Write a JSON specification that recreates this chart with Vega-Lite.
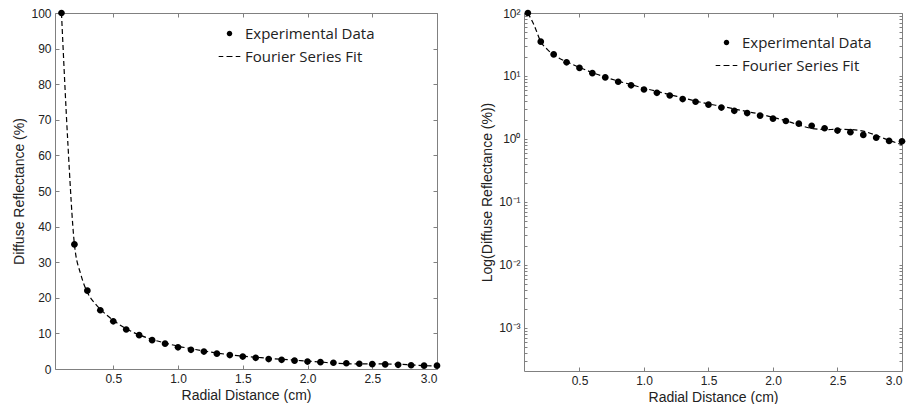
{
  "$schema": "https://vega.github.io/schema/vega-lite/v6.json",
  "background": "white",
  "padding": {"left": 12, "top": 7, "right": 0, "bottom": 0},
  "spacing": 39,
  "config": {
    "view": {"stroke": null},
    "axis": {
      "domainColor": "#808080",
      "tickColor": "#808080",
      "labelColor": "#222222",
      "labelFont": "Liberation Sans",
      "labelFontSize": 12,
      "titleFont": "Liberation Sans",
      "titleFontSize": 14,
      "titleFontWeight": "normal",
      "titleColor": "#222222",
      "grid": false,
      "tickSize": -4,
      "labelPadding": 8
    },
    "legend": {
      "labelFont": "Open Sans",
      "labelFontSize": 15,
      "labelColor": "#222222"
    }
  },
  "datasets": {
    "exp": [
      {"r": 0.1, "R": 100, "series": "Experimental Data"},
      {"r": 0.2, "R": 35, "series": "Experimental Data"},
      {"r": 0.3, "R": 22, "series": "Experimental Data"},
      {"r": 0.4, "R": 16.5, "series": "Experimental Data"},
      {"r": 0.5, "R": 13.4, "series": "Experimental Data"},
      {"r": 0.6, "R": 11.1, "series": "Experimental Data"},
      {"r": 0.7, "R": 9.5, "series": "Experimental Data"},
      {"r": 0.8, "R": 8.1, "series": "Experimental Data"},
      {"r": 0.9, "R": 7.1, "series": "Experimental Data"},
      {"r": 1.0, "R": 6.1, "series": "Experimental Data"},
      {"r": 1.1, "R": 5.4, "series": "Experimental Data"},
      {"r": 1.2, "R": 4.9, "series": "Experimental Data"},
      {"r": 1.3, "R": 4.3, "series": "Experimental Data"},
      {"r": 1.4, "R": 3.9, "series": "Experimental Data"},
      {"r": 1.5, "R": 3.5, "series": "Experimental Data"},
      {"r": 1.6, "R": 3.15, "series": "Experimental Data"},
      {"r": 1.7, "R": 2.8, "series": "Experimental Data"},
      {"r": 1.8, "R": 2.58, "series": "Experimental Data"},
      {"r": 1.9, "R": 2.34, "series": "Experimental Data"},
      {"r": 2.0, "R": 2.1, "series": "Experimental Data"},
      {"r": 2.1, "R": 1.93, "series": "Experimental Data"},
      {"r": 2.2, "R": 1.75, "series": "Experimental Data"},
      {"r": 2.3, "R": 1.62, "series": "Experimental Data"},
      {"r": 2.4, "R": 1.48, "series": "Experimental Data"},
      {"r": 2.5, "R": 1.36, "series": "Experimental Data"},
      {"r": 2.6, "R": 1.28, "series": "Experimental Data"},
      {"r": 2.7, "R": 1.16, "series": "Experimental Data"},
      {"r": 2.8, "R": 1.05, "series": "Experimental Data"},
      {"r": 2.9, "R": 0.93, "series": "Experimental Data"},
      {"r": 3.0, "R": 0.92, "series": "Experimental Data"}
    ],
    "fit": [
      {"r": 0.1, "F": 100}, {"r": 0.15, "F": 63}, {"r": 0.2, "F": 35}, {"r": 0.25, "F": 26.5},
      {"r": 0.3, "F": 21.5}, {"r": 0.35, "F": 18.8}, {"r": 0.4, "F": 16.8}, {"r": 0.5, "F": 13.7},
      {"r": 0.6, "F": 11.3}, {"r": 0.7, "F": 9.6}, {"r": 0.8, "F": 8.3}, {"r": 0.9, "F": 7.3},
      {"r": 1.0, "F": 6.4}, {"r": 1.1, "F": 5.7}, {"r": 1.2, "F": 5.05}, {"r": 1.3, "F": 4.5},
      {"r": 1.4, "F": 4.0}, {"r": 1.5, "F": 3.6}, {"r": 1.6, "F": 3.3}, {"r": 1.7, "F": 3.0},
      {"r": 1.8, "F": 2.72}, {"r": 1.9, "F": 2.48}, {"r": 2.0, "F": 2.2}, {"r": 2.1, "F": 1.95},
      {"r": 2.2, "F": 1.67}, {"r": 2.3, "F": 1.47}, {"r": 2.4, "F": 1.41}, {"r": 2.5, "F": 1.42},
      {"r": 2.6, "F": 1.41}, {"r": 2.7, "F": 1.33}, {"r": 2.8, "F": 1.14}, {"r": 2.9, "F": 0.95},
      {"r": 3.0, "F": 0.81}
    ]
  },
  "hconcat": [
    {
      "width": 382,
      "height": 356,
      "layer": [
        {
          "data": {"name": "fit"},
          "mark": {"type": "line", "color": "black", "strokeDash": [5, 3], "strokeWidth": 1.2, "interpolate": "monotone"},
          "encoding": {
            "x": {"field": "r", "type": "quantitative", "scale": {"domain": [0.05, 3.0], "nice": false, "zero": false},
                  "axis": {"orient": "top", "labels": false, "title": null, "values": [0.5, 1, 1.5, 2, 2.5, 3]}},
            "y": {"field": "F", "type": "quantitative", "scale": {"domain": [0, 100], "nice": false},
                  "axis": {"orient": "right", "labels": false, "title": null, "values": [0, 10, 20, 30, 40, 50, 60, 70, 80, 90, 100]}}
          }
        },
        {
          "data": {"name": "exp"},
          "mark": {"type": "point", "filled": true, "color": "black", "opacity": 1, "size": 180},
          "encoding": {
            "x": {"field": "r", "type": "quantitative", "scale": {"domain": [0.05, 3.0], "nice": false, "zero": false},
                  "axis": {"orient": "bottom", "title": "Radial Distance (cm)", "values": [0.5, 1, 1.5, 2, 2.5, 3], "format": ".1f"}},
            "y": {"field": "R", "type": "quantitative", "scale": {"domain": [0, 100], "nice": false},
                  "axis": {"orient": "left", "title": "Diffuse Reflectance (%)", "values": [0, 10, 20, 30, 40, 50, 60, 70, 80, 90, 100]}},
            "shape": {"field": "series", "type": "nominal",
                      "scale": {"domain": ["Experimental Data", "Fourier Series Fit"],
                                "range": ["M-0.5,0A0.5,0.5 0 1,0 0.5,0A0.5,0.5 0 1,0 -0.5,0Z", "M-2,-0.11H-1.15V0.11H-2ZM-0.55,-0.11H0.55V0.11H-0.55ZM1.15,-0.11H2V0.11H1.15Z"]},
                      "legend": {"title": null, "orient": "none", "legendX": 167, "legendY": 13, "padding": 0,
                                 "symbolSize": 117, "symbolFillColor": "black", "symbolStrokeWidth": 0,
                                 "labelOffset": 8, "rowPadding": 7,
                                 "encode": {"symbols": {"update": {"fill": {"value": "black"}, "size": {"value": 117}}}}}}
          }
        }
      ],
      "resolve": {"axis": {"x": "independent", "y": "independent"}}
    },
    {
      "width": 378,
      "height": 358,
      "layer": [
        {
          "data": {"name": "fit"},
          "mark": {"type": "line", "color": "black", "strokeDash": [5, 3], "strokeWidth": 1.2, "interpolate": "monotone"},
          "encoding": {
            "x": {"field": "r", "type": "quantitative", "scale": {"domain": [0.07, 3.0], "nice": false, "zero": false},
                  "axis": {"orient": "top", "labels": false, "title": null, "values": [0.5, 1, 1.5, 2, 2.5, 3]}},
            "y": {"field": "F", "type": "quantitative", "scale": {"type": "log", "domain": [0.000207, 100], "nice": false},
                  "axis": {"orient": "right", "labels": false, "title": null, "tickSize": -3,
                           "values": [0.0003, 0.0004, 0.0005, 0.0006, 0.0007, 0.0008, 0.0009, 0.001, 0.002, 0.003, 0.004, 0.005, 0.006, 0.007, 0.008, 0.009, 0.01, 0.02, 0.03, 0.04, 0.05, 0.06, 0.07, 0.08, 0.09, 0.1, 0.2, 0.3, 0.4, 0.5, 0.6, 0.7, 0.8, 0.9, 1, 2, 3, 4, 5, 6, 7, 8, 9, 10, 20, 30, 40, 50, 60, 70, 80, 90, 100]}}
          }
        },
        {
          "data": {"name": "exp"},
          "mark": {"type": "point", "filled": true, "color": "black", "opacity": 1, "size": 180},
          "encoding": {
            "x": {"field": "r", "type": "quantitative", "scale": {"domain": [0.07, 3.0], "nice": false, "zero": false},
                  "axis": {"orient": "bottom", "title": "Radial Distance (cm)", "values": [0.5, 1, 1.5, 2, 2.5, 3], "format": ".1f"}},
            "y": {"field": "R", "type": "quantitative", "scale": {"type": "log", "domain": [0.000207, 100], "nice": false},
                  "axis": {"orient": "left", "title": "Log(Diffuse Reflectance (%))", "tickSize": -3, "labelOverlap": false, "labelPadding": 7,
                           "values": [0.0003, 0.0004, 0.0005, 0.0006, 0.0007, 0.0008, 0.0009, 0.001, 0.002, 0.003, 0.004, 0.005, 0.006, 0.007, 0.008, 0.009, 0.01, 0.02, 0.03, 0.04, 0.05, 0.06, 0.07, 0.08, 0.09, 0.1, 0.2, 0.3, 0.4, 0.5, 0.6, 0.7, 0.8, 0.9, 1, 2, 3, 4, 5, 6, 7, 8, 9, 10, 20, 30, 40, 50, 60, 70, 80, 90, 100],
                           "labelExpr": "datum.value == 100 ? '10²' : datum.value == 10 ? '10¹' : datum.value == 1 ? '10⁰' : datum.value == 0.1 ? '10⁻¹' : datum.value == 0.01 ? '10⁻²' : datum.value == 0.001 ? '10⁻³' : ''"}},
            "shape": {"field": "series", "type": "nominal",
                      "scale": {"domain": ["Experimental Data", "Fourier Series Fit"],
                                "range": ["M-0.5,0A0.5,0.5 0 1,0 0.5,0A0.5,0.5 0 1,0 -0.5,0Z", "M-2,-0.11H-1.15V0.11H-2ZM-0.55,-0.11H0.55V0.11H-0.55ZM1.15,-0.11H2V0.11H1.15Z"]},
                      "legend": {"title": null, "orient": "none", "legendX": 195, "legendY": 22, "padding": 0,
                                 "symbolSize": 117, "symbolFillColor": "black", "symbolStrokeWidth": 0,
                                 "labelOffset": 8, "rowPadding": 7,
                                 "encode": {"symbols": {"update": {"fill": {"value": "black"}, "size": {"value": 117}}}}}}
          }
        }
      ],
      "resolve": {"axis": {"x": "independent", "y": "independent"}}
    }
  ],
  "resolve": {"scale": {"x": "independent", "y": "independent", "shape": "independent"}, "legend": {"shape": "independent"}}
}
